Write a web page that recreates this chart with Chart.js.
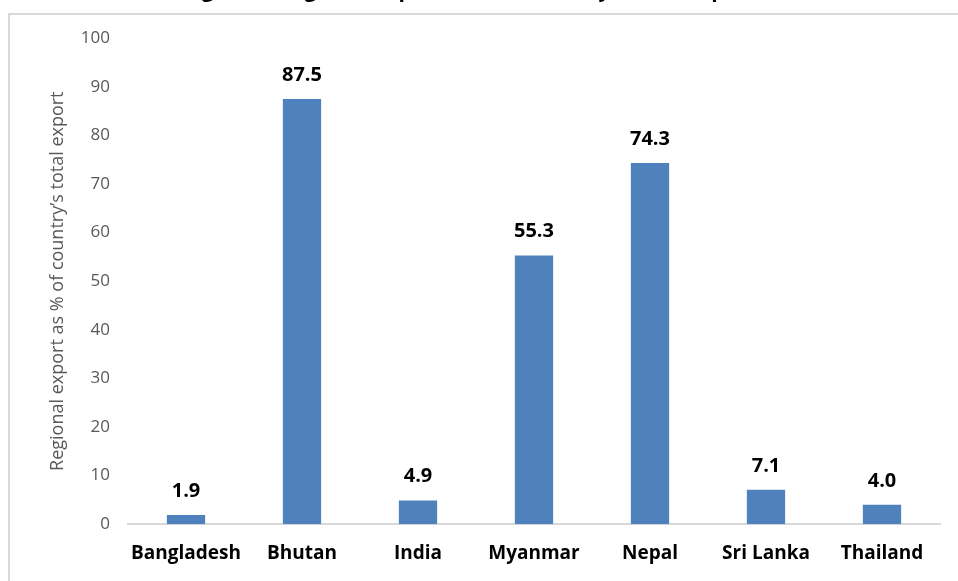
<!DOCTYPE html>
<html>
<head>
<meta charset="utf-8">
<script src="https://cdn.jsdelivr.net/npm/chart.js@4"></script>
<style>
    html, body { margin: 0; padding: 0; background: #fff; overflow: hidden; }
    #wrap { position: relative; width: 958px; height: 581px; overflow: hidden; }
    #frame { position: absolute; left: 8px; top: 13px; right: -2px; bottom: -2px;
             border-top: 2px solid #d9d9d9; border-left: 2px solid #d9d9d9; }
    #chart { position: absolute; left: 0; top: -22px; }
</style>
</head>
<body>
<div id="wrap">
    <div id="frame"></div>
    <canvas id="chart" width="958" height="605"></canvas>
</div>
<script>
// ===== Data =====
const countries = ['Bangladesh', 'Bhutan', 'India', 'Myanmar', 'Nepal', 'Sri Lanka', 'Thailand'];
const regionalExportShare = [1.9, 87.5, 4.9, 55.3, 74.3, 7.1, 4.0];
const yTicks = [0, 10, 20, 30, 40, 50, 60, 70, 80, 90, 100];

const chartTitle = 'Figure 3: Regional export as % of country\u2019s total export';
const yAxisTitle = 'Regional export as % of country\u2019s total export';

const FONT = "'Open Sans', sans-serif";

// ===== Value labels above bars =====
const valueLabels = {
    id: 'valueLabels',
    afterDatasetsDraw(chart) {
        const ctx = chart.ctx;
        const meta = chart.getDatasetMeta(0);
        ctx.save();
        ctx.font = 'bold 20px ' + FONT;
        ctx.fillStyle = '#000';
        ctx.textAlign = 'center';
        ctx.textBaseline = 'alphabetic';
        meta.data.forEach((bar, i) => {
            ctx.fillText(regionalExportShare[i].toFixed(1), bar.x, bar.y - 18);
        });
        ctx.restore();
    }
};

// ===== Config =====
const config = {
    type: 'bar',
    data: {
        labels: countries,
        datasets: [{
            data: regionalExportShare,
            backgroundColor: '#4f81bd',
            barPercentage: 0.33,
            categoryPercentage: 1.0
        }]
    },
    options: {
        responsive: false,
        animation: false,
        layout: { padding: { left: 0, right: 18, top: 0, bottom: 0 } },
        plugins: {
            legend: { display: false },
            tooltip: { enabled: false },
            title: {
                display: true,
                text: chartTitle,
                color: '#000',
                font: { family: FONT, size: 21, weight: 'bold' },
                padding: { top: 0, bottom: 35 }
            }
        },
        scales: {
            x: {
                grid: { display: false, drawTicks: false },
                border: { display: true, color: '#d9d9d9', width: 2 },
                ticks: {
                    color: '#000',
                    font: { family: FONT, size: 19, weight: 'bold' },
                    padding: 18,
                    maxRotation: 0,
                    autoSkip: false
                }
            },
            y: {
                min: 0,
                max: 100,
                afterBuildTicks: axis => { axis.ticks = yTicks.map(v => ({ value: v })); },
                afterFit: axis => { axis.width = 128; },
                grid: { display: false, drawTicks: false },
                border: { display: false },
                ticks: {
                    color: '#595959',
                    font: { family: FONT, size: 17 },
                    padding: 18
                },
                title: {
                    display: true,
                    text: yAxisTitle,
                    color: '#595959',
                    font: { family: FONT, size: 18 },
                    padding: { top: 47, bottom: 0 }
                }
            }
        }
    },
    plugins: [valueLabels]
};

// ===== Chart =====
const chart = new Chart(document.querySelector('#chart'), config);
</script>
</body>
</html>
